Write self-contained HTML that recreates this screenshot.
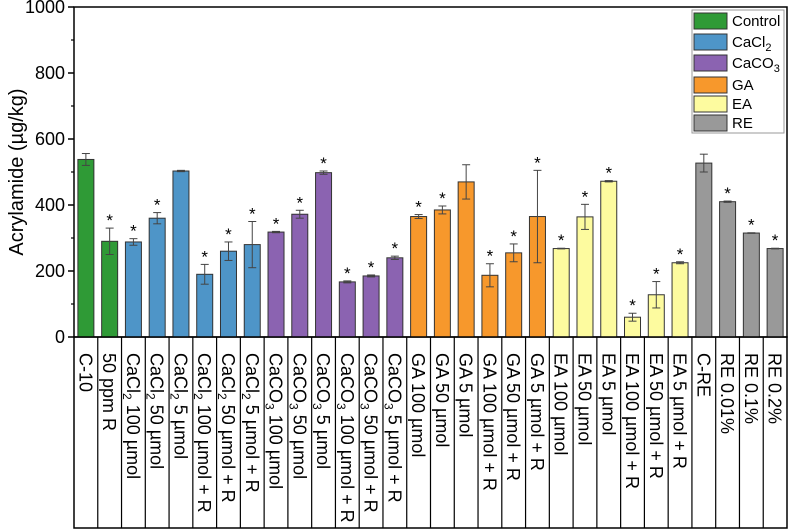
<!DOCTYPE html>
<html><head><meta charset="utf-8"><style>
html,body{margin:0;padding:0;background:#fff;}
svg{display:block;font-family:"Liberation Sans",Arial,sans-serif;}
</style></head><body>
<svg id="chart" width="789" height="530" viewBox="0 0 789 530" xmlns="http://www.w3.org/2000/svg"></svg>
<script>
const categories = ["C-10","50 ppm R",
"CaCl|2| 100 µmol","CaCl|2| 50 µmol","CaCl|2| 5 µmol","CaCl|2| 100 µmol + R","CaCl|2| 50 µmol + R","CaCl|2| 5 µmol + R",
"CaCO|3| 100 µmol","CaCO|3| 50 µmol","CaCO|3| 5 µmol","CaCO|3| 100 µmol + R","CaCO|3| 50 µmol + R","CaCO|3| 5 µmol + R",
"GA 100 µmol","GA 50 µmol","GA 5 µmol","GA 100 µmol + R","GA 50 µmol + R","GA 5 µmol + R",
"EA 100 µmol","EA 50 µmol","EA 5 µmol","EA 100 µmol + R","EA 50 µmol + R","EA 5 µmol + R",
"C-RE","RE 0.01%","RE 0.1%","RE 0.2%"];
const values = [538,290,288,360,503,190,260,280,318,372,498,167,185,240,365,385,470,187,255,365,268,364,472,60,128,225,527,410,315,268];
const errors = [18,40,10,17,2,30,28,70,2,12,5,3,3,5,6,12,52,35,27,140,1,38,2,12,40,3,27,2,1,1];
const significant = [0,1,1,1,0,1,1,1,1,1,1,1,1,1,1,1,0,1,1,1,1,1,1,1,1,1,0,1,1,1];
const groups = [0,0,1,1,1,1,1,1,2,2,2,2,2,2,3,3,3,3,3,3,4,4,4,4,4,4,5,5,5,5];
const groupNames = ["Control","CaCl|2|","CaCO|3|","GA","EA","RE"];
const groupColors = ["#2f9a36","#4e95c8","#8b63b1","#f7982c","#fdfb9f","#999999"];
const yTicks = [0,200,400,600,800,1000];

const svg = document.getElementById('chart');
const NS = "http://www.w3.org/2000/svg";
const X0 = 74, X1 = 787, Y0 = 337, YT = 7, STEP = (X1 - X0) / categories.length;
const y = v => Y0 - (v / 1000) * (Y0 - YT);
const xc = i => X0 + STEP * (i + 0.5);
function mk(tag, attrs, parent) {
  const e = document.createElementNS(NS, tag);
  for (const k in attrs) e.setAttribute(k, attrs[k]);
  (parent || svg).appendChild(e);
  return e;
}
function richText(t, str, subSize) {
  const parts = str.split('|');
  parts.forEach((p, idx) => {
    if (!p) return;
    const ts = document.createElementNS(NS, 'tspan');
    ts.textContent = p;
    if (idx % 2 === 1) { ts.setAttribute('font-size', subSize); ts.setAttribute('dy', '4'); }
    else if (idx > 0) { ts.setAttribute('dy', '-4'); }
    t.appendChild(ts);
  });
}

const frame = mk('rect', {x: X0, y: YT, width: X1 - X0, height: Y0 - YT, fill: 'none', stroke: '#000', 'stroke-width': 1.5});



yTicks.forEach(v => {
  const l = mk('line', {x1: X0 - 6, x2: X0, y1: y(v), y2: y(v), stroke: '#000', 'stroke-width': 1.5});
  
  
  const t = mk('text', {x: X0 - 9, y: y(v) + 6, 'text-anchor': 'end', 'font-size': 18});
  t.textContent = v;
  
  
  if (v < 1000) {
    const m = mk('line', {x1: X0 - 3, x2: X0, y1: y(v + 100), y2: y(v + 100), stroke: '#000', 'stroke-width': 1.2});
    
    
  }
});
const yt = mk('text', {x: 0, y: 0, 'text-anchor': 'middle', 'font-size': 20, transform: 'translate(23,172) rotate(-90)'});
yt.textContent = 'Acrylamide (µg/kg)';



const BW = 16;
values.forEach((v, i) => {
  const c = xc(i);
  const r = mk('rect', {x: c - BW / 2, y: y(v), width: BW, height: Y0 - y(v), fill: groupColors[groups[i]], stroke: '#333', 'stroke-width': 1});
  
  
  const e = errors[i];
  const g = mk('g', {stroke: '#444', 'stroke-width': 1});
  
  
  mk('line', {x1: c, x2: c, y1: y(v + e), y2: y(v - e)}, g);
  mk('line', {x1: c - 4, x2: c + 4, y1: y(v + e), y2: y(v + e)}, g);
  mk('line', {x1: c - 4, x2: c + 4, y1: y(v - e), y2: y(v - e)}, g);
  if (significant[i]) {
    const s = mk('text', {x: c, y: y(v + e) - 2, 'text-anchor': 'middle', 'font-size': 17});
    s.textContent = '*';
    
    
  }
});

const tb = mk('rect', {x: X0, y: Y0, width: X1 - X0, height: 528 - Y0, fill: 'none', stroke: '#000', 'stroke-width': 1.5});


categories.forEach((cat, i) => {
  if (i > 0) {
    const l = mk('line', {x1: X0 + STEP * i, x2: X0 + STEP * i, y1: Y0, y2: 528, stroke: '#000', 'stroke-width': 1.2});
    
    
  }
  const t = mk('text', {x: 0, y: 0, 'font-size': 18, transform: `translate(${xc(i) - 6.5},353) rotate(90)`});
  richText(t, cat, 12);
  
  
});

const lg = mk('g', {});


mk('rect', {x: 692, y: 10, width: 92, height: 123, fill: '#fff', stroke: '#999', 'stroke-width': 1}, lg);
const rowsY = [21, 42, 63, 85, 104, 123];
groupNames.forEach((n, k) => {
  const eg = mk('g', {}, lg);
  
  
  mk('rect', {x: 694, y: rowsY[k] - 8, width: 33, height: 16, fill: groupColors[k], stroke: '#333', 'stroke-width': 1}, eg);
  const t = mk('text', {x: 732, y: rowsY[k] + 5, 'font-size': 15}, eg);
  richText(t, n, 11);
});
</script>
</body></html>
